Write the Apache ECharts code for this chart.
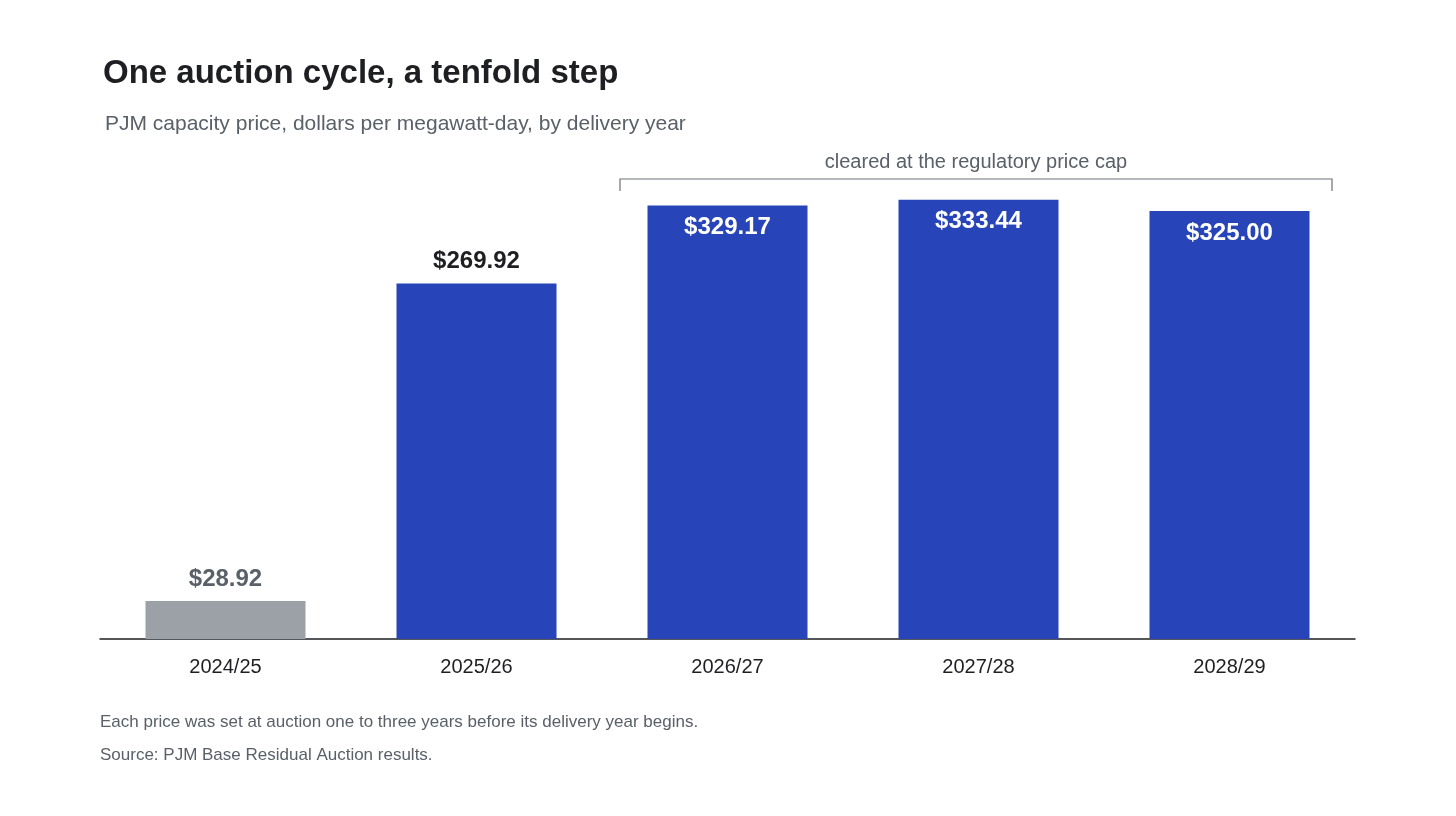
<!DOCTYPE html>
<html>
<head>
<meta charset="utf-8">
<script src="https://cdn.jsdelivr.net/npm/echarts@6/dist/echarts.min.js"></script>
<style>
html,body{margin:0;padding:0;background:#fff}
#chart{width:1456px;height:816px}
</style>
</head>
<body>
<div id="chart"></div>
<script>
// delivery years and cleared prices ($/MW-day)
var years = ["2024/25", "2025/26", "2026/27", "2027/28", "2028/29"];
var prices = [28.92, 269.92, 329.17, 333.44, 325.00];

var font = "Liberation Sans";
var grey = "#9ca1a7", blue = "#2745b8";

var barData = prices.map(function (v, i) {
    var inside = v > 300;
    return {
        value: v,
        itemStyle: {color: i === 0 ? grey : blue},
        label: {
            show: true,
            position: inside ? "insideTop" : "top",
            distance: inside ? 10 : 10,
            color: i === 0 ? "#5a6068" : (inside ? "#ffffff" : "#1d1f22"),
            fontSize: 24,
            fontWeight: "bold",
            fontFamily: font,
            formatter: "$" + v.toFixed(2)
        }
    };
});

var option = {
    animation: false,
    grid: {left: 100, right: 101, top: 178, bottom: 177},
    title: [
        {text: "One auction cycle, a tenfold step", left: 98, top: 52,
         textStyle: {fontSize: 33, fontWeight: "bold", color: "#1d1f22", fontFamily: font}},
        {text: "PJM capacity price, dollars per megawatt-day, by delivery year", left: 100, top: 109,
         textStyle: {fontSize: 21, fontWeight: "normal", color: "#5a6068", fontFamily: font}}
    ],
    xAxis: {
        type: "category",
        data: years,
        axisLine: {lineStyle: {color: "#1d1f22", width: 1.5}},
        axisTick: {show: false},
        axisLabel: {color: "#1d1f22", fontSize: 20, fontFamily: font, margin: 18}
    },
    yAxis: {
        type: "value", min: 0, max: 350,
        show: false, splitLine: {show: false}
    },
    series: [{
        type: "bar",
        data: barData,
        barWidth: 160
    }],
    graphic: [
        {type: "polyline", shape: {points: [[620, 191], [620, 179], [1332, 179], [1332, 191]]},
         style: {stroke: "#6b7078", lineWidth: 1.2, fill: null}},
        {type: "text", x: 976, y: 162, style: {text: "cleared at the regulatory price cap",
         fill: "#5a6068", fontSize: 20, fontFamily: font, textAlign: "center", textVerticalAlign: "middle"}},
        {type: "text", x: 100, y: 722, style: {text: "Each price was set at auction one to three years before its delivery year begins.",
         fill: "#5a6068", fontSize: 17, fontFamily: font, textVerticalAlign: "middle"}},
        {type: "text", x: 100, y: 755, style: {text: "Source: PJM Base Residual Auction results.",
         fill: "#5a6068", fontSize: 17, fontFamily: font, textVerticalAlign: "middle"}}
    ]
};

var chart = echarts.init(document.getElementById("chart"));
chart.setOption(option);
window.onresize = chart.resize;
</script>
</body>
</html>
